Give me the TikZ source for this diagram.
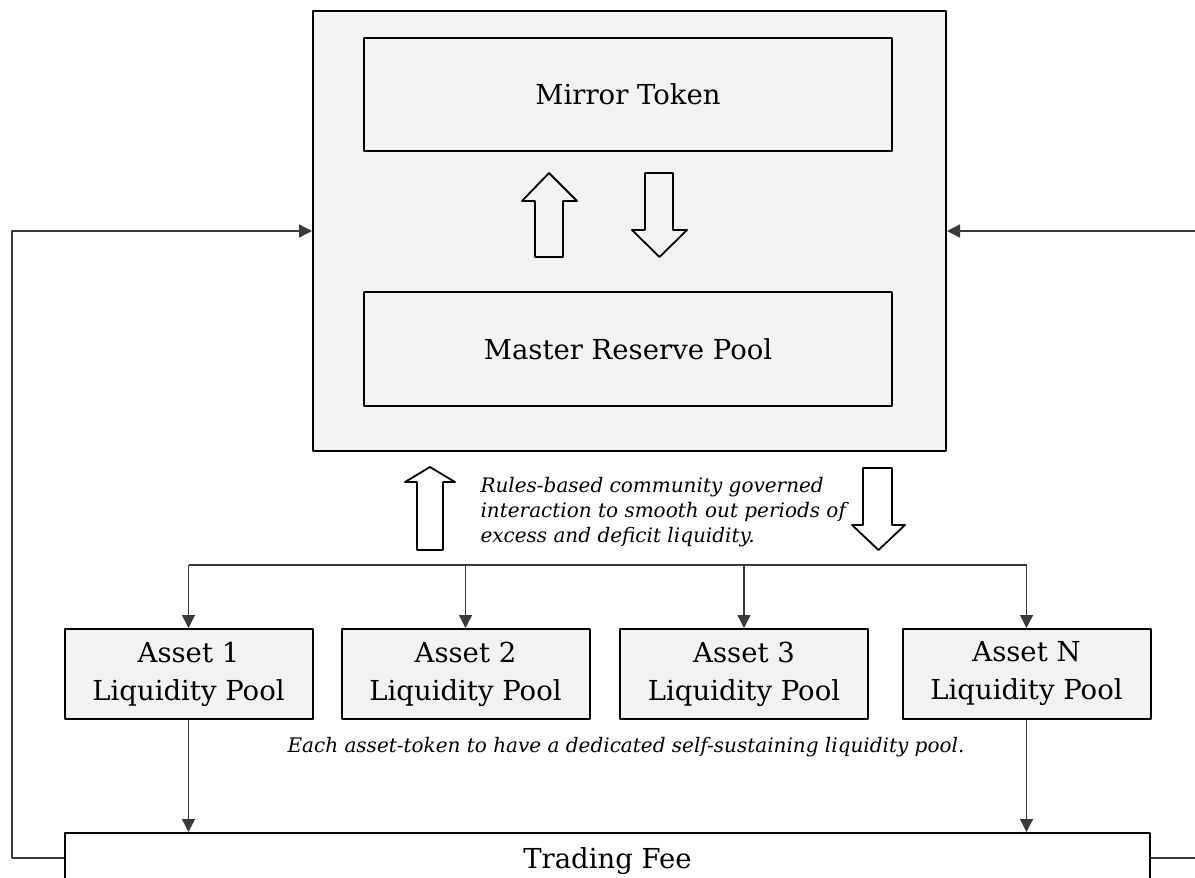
\documentclass[tikz,border=0pt]{standalone}
\usepackage{fontspec}
\setmainfont{DejaVu Serif}
\usetikzlibrary{arrows.meta}
\definecolor{boxgray}{HTML}{F2F2F2}
\definecolor{linegray}{HTML}{3A3A3A}

\begin{document}
\begin{tikzpicture}[x=1pt, y=-1pt, line join=round,
	box/.style={draw, line width=2pt, fill=boxgray, align=center, font=\fontsize{27.5}{38}\selectfont},
	link/.style={draw=linegray, line width=1.4pt, -{Triangle[length=13pt,width=13pt]}},
	bus/.style={draw=linegray, line width=1.4pt},
	fat/.style={draw, line width=1.8pt},
	note/.style={font=\fontsize{20}{25}\selectfont\itshape, align=left}]
	\useasboundingbox (0,0) rectangle (1195,878);
	% Reserve block
	\node[box, minimum width=633pt, minimum height=440pt] (reserve) at (629.5,231) {};
	\node[box, minimum width=528pt, minimum height=113pt] (mirror) at (628,94.5) {Mirror Token};
	\node[box, minimum width=528pt, minimum height=114pt] (master) at (628,349) {Master Reserve Pool};
	\draw[fat] (549,173) -- (577,201) -- (563,201) -- (563,257) -- (535,257) -- (535,201) -- (522,201) -- cycle;
	\draw[fat] (659.5,257) -- (687,230) -- (673,230) -- (673,173) -- (645,173) -- (645,230) -- (632,230) -- cycle;
	% Pools
	\foreach \n/\x in {1/188.5, 2/465.5, 3/744, N/1026.5}
		\node[box, minimum width=248pt, minimum height=90pt] (asset\n) at (\x,674) {Asset \n\\Liquidity Pool};
	\node[box, fill=white, minimum width=1085pt, minimum height=50pt, text depth=-3pt] (fee) at (607.5,858) {Trading Fee};
	% Interaction
	\draw[fat] (430,467) -- (455,482) -- (443,482) -- (443,550) -- (417,550) -- (417,482) -- (405,482) -- cycle;
	\draw[fat] (878.5,550) -- (905,525) -- (892,525) -- (892,468) -- (863,468) -- (863,525) -- (852,525) -- cycle;
	\node[note, anchor=west] (rules) at (477,512) {Rules-based community governed\\interaction to smooth out periods of\\excess and deficit liquidity.};
	\node[note] (dedicated) at (626,747) {Each asset-token to have a dedicated self-sustaining liquidity pool.};
	% Links
	\coordinate (split) at (0,565);
	\draw[bus] (asset1.north |- split) -- (assetN.north |- split);
	\foreach \n in {1,2,3,N}
		\draw[link] (asset\n.north |- split) -- (asset\n.north);
	\draw[link] (asset1.south) -- (asset1.south |- fee.north);
	\draw[link] (assetN.south) -- (assetN.south |- fee.north);
	% Fee loops
	\coordinate (loopL) at (12,0);
	\coordinate (loopR) at (1215,0);
	\draw[link] (fee.west) -- (fee.west -| loopL) -- (reserve.west -| loopL) -- (reserve.west);
	\draw[link] (fee.east) -- (fee.east -| loopR) -- (reserve.east -| loopR) -- (reserve.east);
\end{tikzpicture}
\end{document}
